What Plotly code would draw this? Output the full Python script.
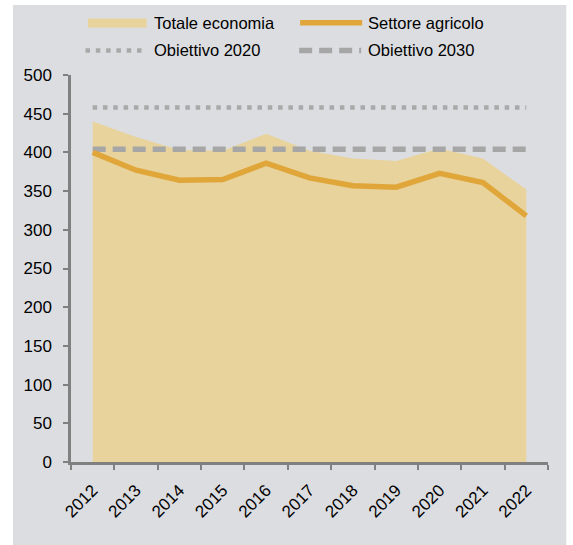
import plotly.graph_objects as go

# ---- data ----
anni = ["2012", "2013", "2014", "2015", "2016", "2017", "2018", "2019", "2020", "2021", "2022"]
totale_economia = [440, 420, 403, 402, 424, 402, 392, 389, 405, 392, 352]
settore_agricolo = [400, 377, 364, 365, 386, 367, 357, 355, 373, 361, 318]
obiettivo_2020 = [458, 458, 458, 458, 458, 458, 458, 458, 458, 458, 458]
obiettivo_2030 = [404, 404, 404, 404, 404, 404, 404, 404, 404, 404, 404]
y_ticks = [0, 50, 100, 150, 200, 250, 300, 350, 400, 450, 500]

# ---- style ----
W, H = 573, 545
L, R, T, B = 71, 25.3, 75, 83
FONT = "Liberation Sans, Arial, sans-serif"
C_AREA = "#E7D39B"
C_LINE = "#E0A63A"
C_DOT = "#A9A9A9"
C_DASH = "#A6A6A6"
C_BG = "#DCDDE0"
C_AXIS = "#808080"

pw = W - L - R
ph = H - T - B


def px_x(x):
    return (x - L) / pw


def px_y(y):
    return (H - B - y) / ph


fig = go.Figure()
fig.add_trace(go.Scatter(x=anni, y=totale_economia, name="Totale economia", mode="lines",
                         fill="tozeroy", fillcolor=C_AREA, line=dict(width=0, color=C_AREA)))
fig.add_trace(go.Scatter(x=anni, y=obiettivo_2020, name="Obiettivo 2020", mode="lines",
                         line=dict(color=C_DOT, width=4.5, dash="4.5px,5.8px")))
fig.add_trace(go.Scatter(x=anni, y=obiettivo_2030, name="Obiettivo 2030", mode="lines",
                         line=dict(color=C_DASH, width=5.5, dash="13px,7px")))
fig.add_trace(go.Scatter(x=anni, y=settore_agricolo, name="Settore agricolo", mode="lines",
                         line=dict(color=C_LINE, width=5.5)))

shapes = [
    # background panel
    dict(type="rect", xref="paper", yref="paper", layer="below",
         x0=px_x(13), x1=px_x(566), y0=px_y(546), y1=px_y(5),
         fillcolor=C_BG, line=dict(width=0)),
    # legend swatches
    dict(type="rect", xref="paper", yref="paper",
         x0=px_x(88), x1=px_x(146.5), y0=px_y(27.5), y1=px_y(18.5),
         fillcolor=C_AREA, line=dict(width=0)),
    dict(type="line", xref="paper", yref="paper",
         x0=px_x(300), x1=px_x(362), y0=px_y(22.7), y1=px_y(22.7),
         line=dict(color=C_LINE, width=5.5)),
    dict(type="line", xref="paper", yref="paper",
         x0=px_x(85.5), x1=px_x(146), y0=px_y(50.5), y1=px_y(50.5),
         line=dict(color=C_DOT, width=4.5, dash="4.5px,5.8px")),
    dict(type="line", xref="paper", yref="paper",
         x0=px_x(299), x1=px_x(361), y0=px_y(50.5), y1=px_y(50.5),
         line=dict(color=C_DASH, width=5.5, dash="13px,7px")),
]

legend_items = [("Totale economia", 152, 22.7), ("Settore agricolo", 366, 22.7),
                ("Obiettivo 2020", 152, 50.5), ("Obiettivo 2030", 366, 50.5)]
annotations = [dict(text=t, xref="paper", yref="paper", x=px_x(x), y=px_y(y),
                    xanchor="left", yanchor="middle", showarrow=False,
                    font=dict(family=FONT, size=16.5, color="#000000"))
               for t, x, y in legend_items]

fig.update_layout(
    width=W, height=H,
    margin=dict(l=L, r=R, t=T, b=B, pad=0),
    paper_bgcolor="white",
    plot_bgcolor="rgba(0,0,0,0)",
    showlegend=False,
    font=dict(family=FONT, size=17, color="#000000"),
    shapes=shapes,
    annotations=annotations,
    xaxis=dict(type="category", range=[-0.5, 10.5], tickson="boundaries",
               showgrid=False, zeroline=False, showline=True, linecolor=C_AXIS, linewidth=2.5,
               ticks="outside", ticklen=5, tickwidth=2, tickcolor=C_AXIS, tickangle=-45,
               ticklabelstandoff=9,
               tickfont=dict(family=FONT, size=17, color="#000000")),
    yaxis=dict(range=[0, 500], tickvals=y_ticks, showgrid=False, zeroline=False,
               showline=True, linecolor=C_AXIS, linewidth=2.5,
               ticks="outside", ticklen=5, tickwidth=2, tickcolor=C_AXIS,
               ticklabelstandoff=8,
               tickfont=dict(family=FONT, size=17, color="#000000")),
)

fig.write_html("out.html", config={"displayModeBar": False},
               post_script="document.body.style.margin='0';")
